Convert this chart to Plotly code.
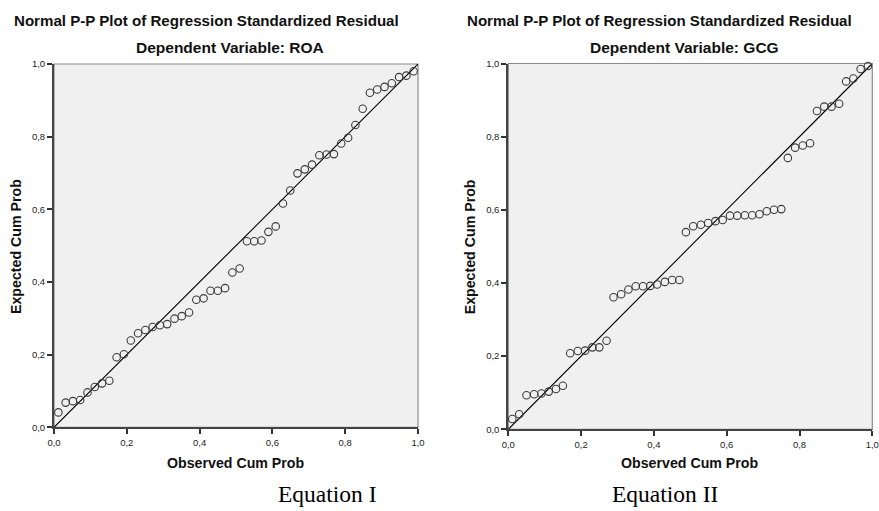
import plotly.graph_objects as go

W, H = 879, 511

# ---- data ----
roa_observed = [0.012, 0.032, 0.052, 0.072, 0.092, 0.112, 0.132, 0.152, 0.172, 0.192,
                0.211, 0.231, 0.251, 0.271, 0.291, 0.311, 0.331, 0.351, 0.371, 0.391,
                0.411, 0.430, 0.450, 0.470, 0.490, 0.510, 0.530, 0.550, 0.570, 0.589,
                0.609, 0.629, 0.649, 0.669, 0.689, 0.709, 0.729, 0.749, 0.769, 0.789,
                0.808, 0.828, 0.848, 0.868, 0.888, 0.908, 0.928, 0.948, 0.968, 0.988]
roa_expected = [0.041, 0.068, 0.072, 0.075, 0.096, 0.111, 0.121, 0.128, 0.193, 0.201,
                0.239, 0.259, 0.268, 0.276, 0.281, 0.284, 0.299, 0.306, 0.316, 0.351,
                0.355, 0.376, 0.376, 0.383, 0.426, 0.437, 0.512, 0.512, 0.514, 0.538,
                0.553, 0.616, 0.652, 0.699, 0.710, 0.723, 0.749, 0.751, 0.752, 0.781,
                0.797, 0.832, 0.877, 0.921, 0.930, 0.937, 0.947, 0.964, 0.968, 0.980]

gcg_observed = [0.011, 0.030, 0.050, 0.071, 0.091, 0.111, 0.131, 0.150, 0.170, 0.191,
                0.211, 0.231, 0.250, 0.270, 0.289, 0.310, 0.330, 0.350, 0.370, 0.390,
                0.409, 0.430, 0.450, 0.470, 0.488, 0.508, 0.529, 0.549, 0.569, 0.589,
                0.609, 0.629, 0.650, 0.670, 0.690, 0.710, 0.730, 0.750, 0.768, 0.788,
                0.809, 0.829, 0.848, 0.868, 0.888, 0.909, 0.928, 0.948, 0.968, 0.988]
gcg_expected = [0.028, 0.041, 0.093, 0.096, 0.098, 0.103, 0.110, 0.119, 0.208, 0.214,
                0.215, 0.224, 0.224, 0.242, 0.361, 0.369, 0.382, 0.391, 0.391, 0.392,
                0.396, 0.403, 0.408, 0.408, 0.539, 0.555, 0.559, 0.564, 0.569, 0.572,
                0.584, 0.584, 0.585, 0.585, 0.588, 0.596, 0.600, 0.602, 0.742, 0.770,
                0.776, 0.782, 0.870, 0.882, 0.882, 0.890, 0.951, 0.959, 0.985, 0.993]

diag_ends = [0.0, 1.0]
tick_values = [0.0, 0.2, 0.4, 0.6, 0.8, 1.0]

main_title = "Normal P-P Plot of Regression Standardized Residual"
sub_titles = ["Dependent Variable: ROA", "Dependent Variable: GCG"]
x_title = "Observed Cum Prob"
y_title = "Expected Cum Prob"
captions = ["Equation I", "Equation II"]

# ---- layout geometry (window pixels) ----
def px(x):
    return x / W

def py(y):
    return 1 - y / H

panels = [
    dict(x0=54, x1=418, y0=64, y1=427.3),
    dict(x0=508.3, x1=872.3, y0=63.5, y1=429.3),
]

fig = go.Figure()

series = [(roa_observed, roa_expected), (gcg_observed, gcg_expected)]
for i, (obs, exp) in enumerate(series):
    xa = "x" if i == 0 else "x2"
    ya = "y" if i == 0 else "y2"
    fig.add_trace(go.Scatter(x=diag_ends, y=diag_ends, mode="lines",
                             line=dict(color="#000000", width=1.1),
                             xaxis=xa, yaxis=ya, hoverinfo="skip",
                             cliponaxis=False, showlegend=False))
    fig.add_trace(go.Scatter(x=obs, y=exp, mode="markers",
                             marker=dict(symbol="circle-open", size=7.5,
                                         color="#3a3a3a", line=dict(width=1.1)),
                             xaxis=xa, yaxis=ya, cliponaxis=False,
                             showlegend=False))

axis_common = dict(range=[0, 1], tickvals=tick_values, tickformat=".1f",
                   ticks="outside", ticklen=5, tickwidth=1.5, tickcolor="#333333",
                   showline=True, linecolor="#444444", linewidth=2,
                   showgrid=False, zeroline=False, automargin=False,
                   ticklabeloverflow="allow",
                   tickfont=dict(family="Liberation Sans, Arial", size=9.5, color="#222222"))

for i, p in enumerate(panels):
    sfx = "" if i == 0 else "2"
    fig.update_layout(**{
        "xaxis" + sfx: dict(axis_common, domain=[px(p["x0"]), px(p["x1"])],
                            anchor="y" + sfx),
        "yaxis" + sfx: dict(axis_common, domain=[py(p["y1"]), py(p["y0"])],
                            anchor="x" + sfx),
    })
    fig.add_shape(type="rect", xref="x%s domain" % sfx, yref="y%s domain" % sfx,
                  x0=0, x1=1, y0=0, y1=1, line=dict(color="#8a8a8a", width=1.2),
                  layer="below")

bold = dict(family="Liberation Sans, Arial", size=14.2, color="#111111")
ann = []
title_left = [12, 465]
for i, p in enumerate(panels):
    cx = (p["x0"] + p["x1"]) / 2
    ann.append(dict(text="<b>%s</b>" % main_title, x=px(title_left[i]), y=py(21),
                    xanchor="left", yanchor="middle", font=dict(bold, size=15.1)))
    ann.append(dict(text="<b>%s</b>" % sub_titles[i], x=px(cx - 6), y=py(47),
                    xanchor="center", yanchor="middle", font=dict(bold, size=15.5)))
    ann.append(dict(text="<b>%s</b>" % x_title, x=px(cx), y=py(463),
                    xanchor="center", yanchor="middle", font=bold))
    ann.append(dict(text="<b>%s</b>" % y_title, x=px(p["x0"] - 38), y=py(247),
                    xanchor="center", yanchor="middle", textangle=-90, font=bold))
cap_x = [327, 665]
for i in range(2):
    ann.append(dict(text=captions[i], x=px(cap_x[i]), y=py(494),
                    xanchor="center", yanchor="middle",
                    font=dict(family="Liberation Serif, Times New Roman", size=23.5,
                              color="#000000")))
for a in ann:
    a.update(xref="paper", yref="paper", showarrow=False)

fig.update_layout(width=W, height=H, margin=dict(l=0, r=0, t=0, b=0),
                  paper_bgcolor="#ffffff", plot_bgcolor="#f0f0f0",
                  separators=", ", annotations=ann, showlegend=False)

fig.write_html("out.html", config={"displayModeBar": False},
               post_script="document.body.style.margin='0';"
                           "document.body.style.overflow='hidden';")
